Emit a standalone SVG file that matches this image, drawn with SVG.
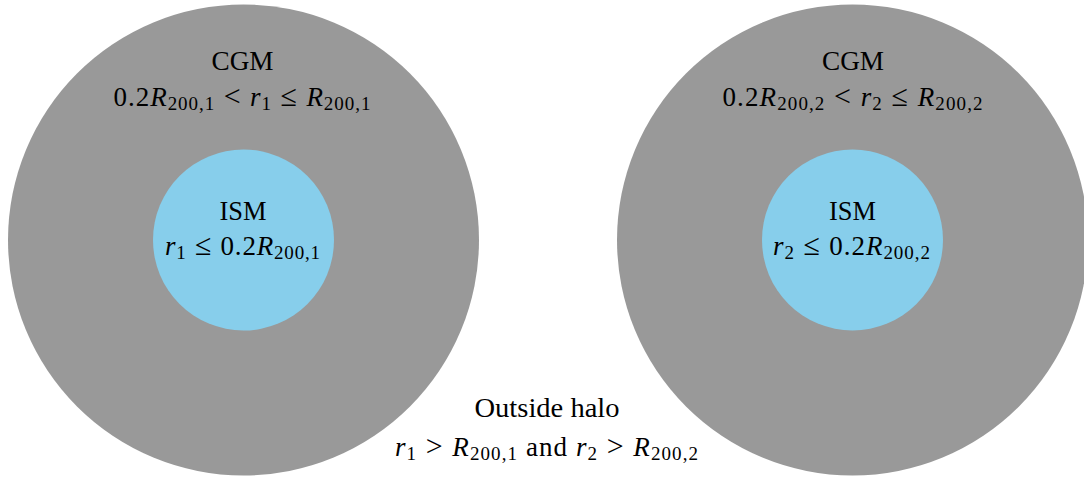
<svg xmlns="http://www.w3.org/2000/svg" width="1084" height="479" viewBox="0 0 1084 479">
<style>
.halo{fill:#999999}
.ism{fill:#87ceeb}
text{font-family:"Liberation Serif","DejaVu Serif",serif;font-size:27px;fill:#000;text-anchor:middle}
.i{font-style:italic}
.s{font-size:19px}
.r{font-size:30px}
</style>
<rect width="1084" height="479" fill="#ffffff"/>
<g id="halo1">
<circle class="halo" cx="243.5" cy="240" r="235.5"/>
<text x="242.5" y="69.5" textLength="62" lengthAdjust="spacingAndGlyphs">CGM</text>
<text x="242" y="106" textLength="257" lengthAdjust="spacing">0.2<tspan class="i">R</tspan><tspan class="s" dy="4">200,1</tspan><tspan class="r" dy="-4"> &lt; </tspan><tspan class="i">r</tspan><tspan class="s" dy="4">1</tspan><tspan class="r" dy="-4"> ≤ </tspan><tspan class="i">R</tspan><tspan class="s" dy="4">200,1</tspan></text>
</g>
<g id="ism1">
<circle class="ism" cx="243.5" cy="240" r="90.5"/>
<text x="243" y="219.5" textLength="47" lengthAdjust="spacingAndGlyphs">ISM</text>
<text x="242.5" y="254.5" textLength="155" lengthAdjust="spacing"><tspan class="i">r</tspan><tspan class="s" dy="4">1</tspan><tspan class="r" dy="-4"> ≤ </tspan>0.2<tspan class="i">R</tspan><tspan class="s" dy="4">200,1</tspan></text>
</g>
<g id="halo2">
<circle class="halo" cx="852.5" cy="240" r="235.5"/>
<text x="853" y="69.5" textLength="62" lengthAdjust="spacingAndGlyphs">CGM</text>
<text x="852.5" y="106" textLength="260" lengthAdjust="spacing">0.2<tspan class="i">R</tspan><tspan class="s" dy="4">200,2</tspan><tspan class="r" dy="-4"> &lt; </tspan><tspan class="i">r</tspan><tspan class="s" dy="4">2</tspan><tspan class="r" dy="-4"> ≤ </tspan><tspan class="i">R</tspan><tspan class="s" dy="4">200,2</tspan></text>
</g>
<g id="ism2">
<circle class="ism" cx="852.5" cy="240" r="90.5"/>
<text x="852.5" y="219.5" textLength="47" lengthAdjust="spacingAndGlyphs">ISM</text>
<text x="851.5" y="254.5" textLength="157" lengthAdjust="spacing"><tspan class="i">r</tspan><tspan class="s" dy="4">2</tspan><tspan class="r" dy="-4"> ≤ </tspan>0.2<tspan class="i">R</tspan><tspan class="s" dy="4">200,2</tspan></text>
</g>
<g id="outside">
<text x="547" y="417" textLength="145" lengthAdjust="spacingAndGlyphs">Outside halo</text>
<text x="546.5" y="455.5" textLength="303" lengthAdjust="spacing"><tspan class="i">r</tspan><tspan class="s" dy="4">1</tspan><tspan class="r" dy="-4"> &gt; </tspan><tspan class="i">R</tspan><tspan class="s" dy="4">200,1</tspan><tspan dy="-4"> and </tspan><tspan class="i">r</tspan><tspan class="s" dy="4">2</tspan><tspan class="r" dy="-4"> &gt; </tspan><tspan class="i">R</tspan><tspan class="s" dy="4">200,2</tspan></text>
</g>
<g id="connectors"></g>
</svg>
